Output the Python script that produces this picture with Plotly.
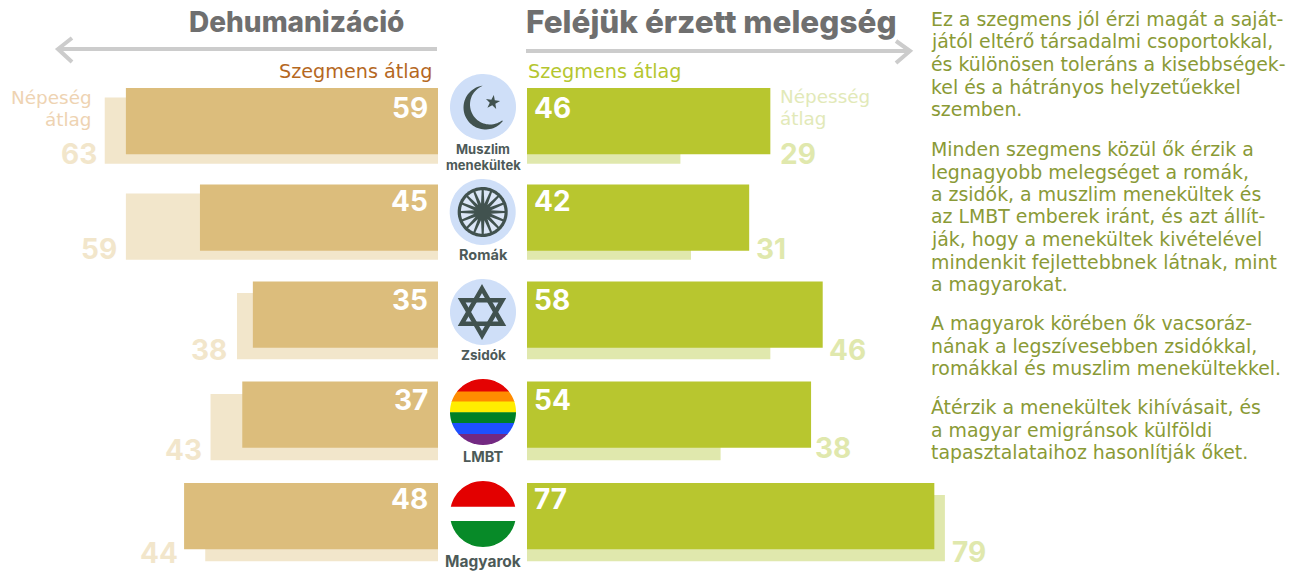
import numpy as np
import plotly.graph_objects as go

# ---------- data ----------
categories = ["Muszlim menekültek", "Romák", "Zsidók", "LMBT", "Magyarok"]
# printed values
dehum_segment = [59, 45, 35, 37, 48]
dehum_population = [63, 59, 38, 43, 44]
warm_segment = [46, 42, 58, 54, 77]
warm_population = [29, 31, 46, 38, 79]
# bar lengths as they are drawn in the picture (two right-hand bars differ from their printed value)
warm_segment_drawn = [46, 42, 55.9, 53.7, 77]
warm_population_drawn = [29, 31, 46, 36.6, 79]

title_left = "Dehumanizáció"
title_right = "Feléjük érzett melegség"
legend_segment = "Szegmens átlag"
legend_pop_left = ["Népeség", "átlag"]
legend_pop_right = ["Népesség", "átlag"]
icon_labels = [["Muszlim", "menekültek"], ["Romák"], ["Zsidók"], ["LMBT"], ["Magyarok"]]
body_lines = [
    "Ez a szegmens jól érzi magát a saját-",
    "jától eltérő társadalmi csoportokkal,",
    "és különösen toleráns a kisebbségek-",
    "kel és a hátrányos helyzetűekkel",
    "szemben.",
    "Minden szegmens közül ők érzik a",
    "legnagyobb melegséget a romák,",
    "a zsidók, a muszlim menekültek és",
    "az LMBT emberek iránt, és azt állít-",
    "ják, hogy a menekültek kivételével",
    "mindenkit fejlettebbnek látnak, mint",
    "a magyarokat.",
    "A magyarok körében ők vacsoráz-",
    "nának a legszívesebben zsidókkal,",
    "romákkal és muszlim menekültekkel.",
    "Átérzik a menekültek kihívásait, és",
    "a magyar emigránsok külföldi",
    "tapasztalataihoz hasonlítják őket.",
]

# ---------- layout constants ----------
W, H = 1303, 581
PX_PER_UNIT = 5.29
LEFT_BASE, RIGHT_BASE = 438, 527
ROW0, ROW_STEP = 121, 98.75
BAR_H = 66.3
seg_top = [88, 184.5, 281.5, 381.5, 483]
pop_top = [97.5, 193.5, 293, 394, 495]
seg_label_y = [108, 201, 300, 400, 499]
pop_label_left_y = [154, 249, 350, 450, 553]
pop_label_right_y = [154, 249, 350, 448, 551.5]
pop_shift_left = [-6, -7, -8, -7, -4]
pop_shift_right = [8, 5, 4, 2, 5]
body_y = [19, 41.5, 64, 86.5, 109, 149, 171.5, 194, 216.5, 239, 261.5, 284, 323, 345.5, 368, 407, 429.5, 452]
icon_cy = [107, 212, 312, 412, 514]
icon_label_y = [[148.8, 164.8], [254], [355], [456], [561]]
icon_label_size = [[13, 13], [14.5], [13.5], [14.5], [15.5]]

FONT = "Inter"
FONT_TEXT = "DejaVu Sans"
C_SEG_L, C_POP_L = "#dcbd7c", "#f2e6cb"
C_SEG_R, C_POP_R = "#b8c62f", "#e0e8ad"
C_TITLE, C_ARROW = "#6f6f6f", "#cccccc"
C_LEG_L, C_LEG_R = "#b5681f", "#b5c62f"
C_PL_L, C_PL_R = "#eed3b2", "#e2e9b8"
C_BODY, C_ICON, C_DISC = "#8a9a36", "#41524f", "#cfdff8"


def row_px(i):
    return ROW0 + ROW_STEP * i


def offsets(tops):
    return [(t - row_px(i)) / ROW_STEP for i, t in enumerate(tops)]


def hbar(vals, tops, color, xa):
    return go.Bar(y=categories, x=vals, orientation="h", xaxis=xa, yaxis="y",
                  marker=dict(color=color, line=dict(width=0)),
                  width=BAR_H / ROW_STEP, offset=offsets(tops),
                  hoverinfo="skip", showlegend=False)


fig = go.Figure()
fig.add_trace(hbar(dehum_population, pop_top, C_POP_L, "x"))
fig.add_trace(hbar(dehum_segment, seg_top, C_SEG_L, "x"))
fig.add_trace(hbar(warm_population_drawn, pop_top, C_POP_R, "x2"))
fig.add_trace(hbar(warm_segment_drawn, seg_top, C_SEG_R, "x2"))

ann, shapes = [], []


def px(x):
    return x / W


def py(y):
    return 1 - y / H


def text(x, y, s, size, color, anchor="left", bold=False, weight=None, family=FONT):
    f = dict(family=family, size=size, color=color)
    if weight:
        f["weight"] = weight
    ann.append(dict(xref="paper", yref="paper", x=px(x), y=py(y), text=f"<b>{s}</b>" if bold else s,
                    showarrow=False, xanchor=anchor, yanchor="middle", font=f, borderpad=0))


def path_of(points, close=True):
    d = "M" + "L".join(f"{px(a):.5f},{py(b):.5f}" for a, b in points)
    return d + ("Z" if close else "")


def poly(points, fill):
    shapes.append(dict(type="path", xref="paper", yref="paper", path=path_of(points),
                       fillcolor=fill, line=dict(width=0), layer="above"))


def stroke(points, color, width, close=False):
    shapes.append(dict(type="path", xref="paper", yref="paper", path=path_of(points, close),
                       line=dict(color=color, width=width), layer="above"))


def arc(cx, cy, r, a0, a1, n=60):
    t = np.linspace(a0, a1, n)
    return list(zip(cx + r * np.cos(t), cy + r * np.sin(t)))


def disc(cx, cy, r, fill):
    poly(arc(cx, cy, r, 0, 2 * np.pi, 90), fill)


def band(cx, cy, r, y0, y1, fill):
    ys = np.linspace(y0, y1, 50)
    right = [(cx + np.sqrt(max(r**2 - (v - cy) ** 2, 0)), v) for v in ys]
    left = [(cx - np.sqrt(max(r**2 - (v - cy) ** 2, 0)), v) for v in ys[::-1]]
    poly(right + left, fill)


# value labels attached to the data axes
VAL = 28
for i in range(5):
    c = categories[i]
    ann.append(dict(xref="x", yref="y", x=0, y=c, text=f"<b>{dehum_segment[i]}</b>", showarrow=False,
                    xanchor="right", yanchor="middle", xshift=-8, yshift=row_px(i) - seg_label_y[i],
                    font=dict(family=FONT, size=VAL, color="white")))
    ann.append(dict(xref="x2", yref="y", x=0, y=c, text=f"<b>{warm_segment[i]}</b>", showarrow=False,
                    xanchor="left", yanchor="middle", xshift=5, yshift=row_px(i) - seg_label_y[i],
                    font=dict(family=FONT, size=VAL, color="white")))
    ann.append(dict(xref="x", yref="y", x=max(dehum_segment[i], dehum_population[i]), y=c,
                    text=f"<b>{dehum_population[i]}</b>", showarrow=False,
                    xanchor="right", yanchor="middle", xshift=pop_shift_left[i],
                    yshift=row_px(i) - pop_label_left_y[i],
                    font=dict(family=FONT, size=VAL, color=C_POP_L)))
    ann.append(dict(xref="x2", yref="y", x=max(warm_segment_drawn[i], warm_population_drawn[i]), y=c,
                    text=f"<b>{warm_population[i]}</b>", showarrow=False,
                    xanchor="left", yanchor="middle", xshift=pop_shift_right[i],
                    yshift=row_px(i) - pop_label_right_y[i],
                    font=dict(family=FONT, size=VAL, color=C_POP_R)))

# titles and legends
text(405, 22, title_left, 28, C_TITLE, "right", False, 800)
text(525, 21, title_right, 31.5, C_TITLE, "left", False, 800)
text(434, 71, legend_segment, 19.2, C_LEG_L, "right", family=FONT_TEXT)
text(527, 71, legend_segment, 19.2, C_LEG_R, "left", family=FONT_TEXT)
for s, y in zip(legend_pop_left, [97, 119]):
    text(93, y, s, 18.4, C_PL_L, "right", family=FONT_TEXT)
for s, y in zip(legend_pop_right, [96, 118]):
    text(779, y, s, 18.4, C_PL_R, "left", family=FONT_TEXT)
for s, y in zip(body_lines, body_y):
    text(930, y, s, 18.9, C_BODY, family=FONT_TEXT)

# arrows
stroke([(437, 49), (58, 49)], C_ARROW, 4)
stroke([(72, 38), (58, 49), (72, 62)], C_ARROW, 4)
stroke([(526, 51), (910, 51)], C_ARROW, 4)
stroke([(896, 41), (910, 51), (896, 63)], C_ARROW, 4)

# icon labels
for labs, ys, sizes in zip(icon_labels, icon_label_y, icon_label_size):
    for s, y, sz in zip(labs, ys, sizes):
        text(483, y, s, sz, "#4d5a58", "center", True)

# crescent + star
cx = 483
cy = icon_cy[0]
disc(cx, cy, 33, C_DISC)
tip1, tip2 = np.array([482.3, 85.7]), np.array([501.7, 120.0])
oc, ic = np.array([485.5, 107.5]), np.array([490.0, 104.5])
ang = lambda c, p: np.arctan2(p[1] - c[1], p[0] - c[0])
outer = arc(oc[0], oc[1], 22.0, ang(oc, tip1) + 2 * np.pi, ang(oc, tip2), 50)
inner = arc(ic[0], ic[1], 20.0, ang(ic, tip2), ang(ic, tip1) + 2 * np.pi, 50)
poly(outer + inner, C_ICON)
star = []
for k in range(10):
    r = 7.5 if k % 2 == 0 else 3.0
    t = -np.pi / 2 + k * np.pi / 5 + 0.15
    star.append((492.7 + r * np.cos(t), 102.3 + r * np.sin(t)))
poly(star, C_ICON)

# chakra wheel
cx2, cy2 = 482.7, icon_cy[1]
disc(cx2, cy2, 33, C_DISC)
disc(cx2, cy2, 25, C_ICON)
for k in range(16):
    t = k * np.pi / 8 + np.pi / 16
    half = np.deg2rad(8.5)
    petal = [(cx2 + 8.5 * np.cos(t), cy2 + 8.5 * np.sin(t))] + arc(cx2, cy2, 21.8, t - half, t + half, 8)
    poly(petal, "#dbe6f7")

# star of David
cy3 = icon_cy[2]
disc(cx, cy3, 33, C_DISC)
for rot in (-np.pi / 2, np.pi / 2):
    tri = [(cx - 1 + 23.5 * np.cos(rot + k * 2 * np.pi / 3), cy3 + 23.5 * np.sin(rot + k * 2 * np.pi / 3)) for k in range(3)]
    stroke(tri, C_ICON, 4.5, True)

# rainbow
cy4 = icon_cy[3]
rainbow = ["#e40303", "#ff8c00", "#ffed00", "#008026", "#1e50ff", "#732982"]
edges = [379, 391.5, 401.5, 412.3, 423, 434, 445]
for col, y0, y1 in zip(rainbow, edges[:-1], edges[1:]):
    band(cx, cy4, 33, y0, y1 + 0.4 if y1 < 445 else y1, col)

# Hungarian flag
cy5 = icon_cy[4]
band(cx, cy5, 33, 481, 506.7, "#e30000")
band(cx, cy5, 33, 521, 547, "#078a28")

fig.update_layout(
    width=W, height=H, autosize=False, margin=dict(l=0, r=0, t=0, b=0),
    paper_bgcolor="white", plot_bgcolor="white", barmode="overlay", showlegend=False,
    xaxis=dict(domain=[0, LEFT_BASE / W], range=[LEFT_BASE / PX_PER_UNIT, 0], visible=False, anchor="y"),
    xaxis2=dict(domain=[RIGHT_BASE / W, 1], range=[0, (W - RIGHT_BASE) / PX_PER_UNIT], visible=False, anchor="y"),
    yaxis=dict(domain=[0, 1], type="category", categoryorder="array", categoryarray=categories,
               range=[(H - ROW0) / ROW_STEP, -ROW0 / ROW_STEP], visible=False),
    annotations=ann, shapes=shapes,
)
fig.write_html("out.html", config=dict(displayModeBar=False),
               post_script="document.body.style.margin='0';document.body.style.overflow='hidden';")
